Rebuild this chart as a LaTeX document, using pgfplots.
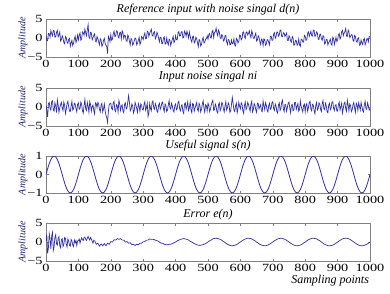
\documentclass[border=0pt]{standalone}
\usepackage{fontspec}
\setmainfont{Liberation Serif}
\newfontfamily\tickfont[FakeStretch=1.3]{Liberation Serif}
\usepackage{pgfplots}
\usepackage{pgfplotstable}
\pgfplotsset{compat=1.18}
\definecolor{sig}{RGB}{48,48,160}
\definecolor{lab}{RGB}{30,30,110}

% reference input with noise d(n), sampled every 2.5 points
\pgfplotstableread[row sep=\\]{y\\
0.8\\ -0.7\\ -0.7\\ 1.2\\ 1.1\\ 0.2\\ 1.9\\ 1.2\\ 0.6\\ 2.0\\ 1.9\\ 0.2\\ 0.3\\ 1.5\\ 2.0\\ 0.3\\ 0.8\\ 1.6\\ -0.8\\ -0.4\\ 0.6\\ 0.0\\ -1.2\\ -1.5\\ 0.4\\ 0.1\\ -1.1\\ -1.4\\ -0.3\\ -0.1\\ -2.2\\ -1.3\\ -0.6\\ -2.0\\ -1.4\\ -0.2\\ 0.5\\ -1.2\\ -0.5\\ 0.8\\
-0.5\\ 0.8\\ 1.3\\ -0.6\\ -0.2\\ 1.6\\ 1.4\\ 0.7\\ 2.3\\ 1.4\\ 0.6\\ 2.2\\ 3.5\\ 0.2\\ -0.1\\ 1.5\\ 1.3\\ -0.5\\ 0.1\\ 0.7\\ 1.1\\ -0.8\\ -1.0\\ 0.4\\ -0.2\\ -1.0\\ -1.8\\ -0.2\\ -0.5\\ -2.2\\ -1.8\\ -0.6\\ -0.1\\ -1.4\\ -1.9\\ -2.2\\ -4.1\\ 0.5\\ 0.0\\ -1.0\\
0.9\\ -0.6\\ -0.3\\ 1.1\\ 1.8\\ 0.4\\ 0.5\\ 1.9\\ 1.8\\ 0.4\\ 0.0\\ 1.4\\ 1.5\\ -0.2\\ 1.9\\ 1.4\\ -0.1\\ 0.7\\ 0.6\\ -0.7\\ -0.9\\ 0.8\\ 0.3\\ -0.9\\ -1.8\\ -0.1\\ -0.4\\ -1.9\\ -1.5\\ -0.7\\ 0.0\\ -0.2\\ -1.8\\ -1.4\\ -0.6\\ 0.2\\ -1.7\\ -1.2\\ 0.4\\ 0.1\\
-0.4\\ 0.7\\ 1.3\\ -0.2\\ -0.1\\ 1.8\\ 1.6\\ 0.4\\ 1.2\\ 1.8\\ 2.3\\ 0.7\\ 0.5\\ 1.5\\ 1.7\\ -0.2\\ 0.3\\ 1.5\\ 0.9\\ 0.0\\ -1.0\\ 0.2\\ 0.2\\ -1.5\\ -1.4\\ 0.0\\ 0.3\\ -1.5\\ -1.6\\ 0.0\\ -1.2\\ -1.8\\ -0.3\\ -0.6\\ -2.0\\ -1.1\\ -0.3\\ 0.4\\ -1.2\\ -0.8\\
0.6\\ -0.4\\ -0.5\\ 1.4\\ 1.7\\ 0.5\\ 0.6\\ 1.6\\ 1.7\\ 0.0\\ 0.1\\ 1.8\\ 1.4\\ 0.5\\ 1.8\\ 1.0\\ 0.0\\ 1.6\\ 0.5\\ -0.5\\ -1.1\\ 0.3\\ 0.5\\ -1.3\\ -1.0\\ 0.2\\ -0.2\\ -1.2\\ -2.3\\ -0.4\\ -0.7\\ -2.1\\ -1.7\\ -0.5\\ 0.2\\ -1.3\\ -1.1\\ -0.3\\ -0.2\\ 0.6\\
-0.3\\ 0.9\\ 1.2\\ 0.1\\ 0.0\\ 1.7\\ 2.0\\ 0.1\\ 1.5\\ 1.6\\ 2.6\\ 1.3\\ 0.6\\ 2.1\\ 1.5\\ 0.1\\ -0.2\\ 0.9\\ 0.7\\ -0.8\\ -0.6\\ 0.6\\ 0.7\\ -1.0\\ -1.7\\ -0.4\\ -0.5\\ -1.8\\ -1.7\\ -0.5\\ -1.5\\ -1.4\\ -0.2\\ -1.9\\ -2.1\\ -0.1\\ -0.4\\ -1.3\\ -0.9\\ 0.8\\
0.7\\ -0.5\\ -0.2\\ 1.5\\ 1.6\\ 0.3\\ -0.1\\ 1.5\\ 1.6\\ 0.8\\ 1.2\\ 1.9\\ 0.7\\ 0.1\\ 1.9\\ 1.2\\ -0.1\\ -0.1\\ 0.7\\ 1.3\\ -0.8\\ -0.5\\ 0.6\\ 0.2\\ -1.0\\ -1.7\\ -0.3\\ -0.5\\ -2.0\\ -0.2\\ -0.4\\ -1.9\\ -1.6\\ -0.4\\ -0.5\\ -1.2\\ -1.8\\ 0.5\\ 0.5\\ -0.6\\
-0.6\\ 1.0\\ 1.4\\ -0.1\\ 0.3\\ 1.6\\ 1.6\\ 0.5\\ 0.8\\ 2.1\\ 2.0\\ 0.3\\ 0.3\\ 1.4\\ 1.3\\ 0.4\\ 0.9\\ 1.3\\ -0.6\\ -0.7\\ 0.6\\ 0.2\\ -0.8\\ -1.1\\ 0.4\\ 0.0\\ -1.9\\ -1.7\\ -0.6\\ -0.7\\ -1.9\\ -1.6\\ -0.3\\ -1.8\\ -2.2\\ -0.3\\ -0.4\\ -1.0\\ -1.1\\ 0.7\\
0.5\\ -0.6\\ -0.4\\ 1.2\\ 1.6\\ 0.4\\ 1.1\\ 1.8\\ 0.6\\ 0.5\\ 2.1\\ 2.0\\ 0.4\\ 0.7\\ 1.6\\ 1.3\\ -0.3\\ -0.4\\ 0.9\\ 1.0\\ -0.2\\ -0.6\\ 0.6\\ 0.5\\ -1.6\\ -1.3\\ -0.4\\ -0.4\\ -1.8\\ -1.2\\ -0.8\\ -0.3\\ -1.6\\ -1.9\\ 0.2\\ -0.1\\ -1.7\\ -0.8\\ 0.2\\ -0.9\\
-0.5\\ 0.8\\ 1.2\\ -0.3\\ 0.2\\ 1.7\\ 2.0\\ 0.6\\ 1.3\\ 1.7\\ 2.5\\ 0.5\\ 0.4\\ 2.1\\ 1.6\\ 0.1\\ 0.4\\ 0.9\\ 0.8\\ -0.6\\ -0.9\\ 0.7\\ 0.4\\ -0.9\\ -1.1\\ -0.1\\ 0.1\\ -1.9\\ -1.8\\ -0.5\\ -1.3\\ -1.7\\ -0.4\\ -0.1\\ -1.8\\ -1.2\\ -0.2\\ -0.2\\ -1.0\\ 0.4\\
0.3\\
}\dref

% input noise, sampled every 2.5 points
\pgfplotstableread[row sep=\\]{y\\
0.4\\ -1.0\\ -2.6\\ 0.9\\ 1.2\\ -0.3\\ -0.8\\ 1.4\\ 1.6\\ -0.7\\ -1.1\\ 1.1\\ 0.3\\ -1.5\\ 1.9\\ 0.5\\ -1.4\\ -0.2\\ 0.6\\ 1.2\\ -0.2\\ -0.9\\ 1.3\\ 0.4\\ -1.7\\ -0.6\\ 0.9\\ 1.5\\ 0.1\\ -1.1\\ -1.2\\ 0.3\\ 1.5\\ -0.8\\ -0.5\\ 1.0\\ 0.8\\ -0.4\\ -1.3\\ 0.7\\
1.1\\ -0.6\\ -0.4\\ 1.3\\ 0.7\\ -1.0\\ -1.6\\ 0.4\\ 2.0\\ -0.5\\ -0.9\\ 1.2\\ 0.2\\ -1.4\\ 1.4\\ 0.6\\ -1.1\\ 0.1\\ 0.5\\ -0.9\\ -1.8\\ 1.1\\ 0.9\\ -0.2\\ 1.2\\ 0.8\\ -0.6\\ -1.3\\ 0.4\\ 1.0\\ -1.3\\ -0.5\\ 0.8\\ -1.0\\ -2.2\\ -2.8\\ -4.0\\ -1.2\\ 0.6\\ 0.9\\
1.0\\ -0.4\\ -0.7\\ 1.1\\ 1.5\\ -0.8\\ -1.2\\ 0.6\\ 0.3\\ -1.3\\ 1.7\\ 0.9\\ -0.9\\ 0.2\\ 0.6\\ -1.1\\ -1.5\\ 0.7\\ 1.1\\ -0.5\\ -0.3\\ 1.4\\ 3.0\\ 1.2\\ -1.0\\ -0.6\\ 0.8\\ 0.3\\ -1.6\\ -0.9\\ 1.2\\ 0.5\\ -0.4\\ -1.4\\ 0.9\\ 0.2\\ -1.1\\ 0.8\\ 0.5\\ -0.7\\
-0.8\\ 0.6\\ 1.4\\ -0.9\\ -0.2\\ 1.0\\ -2.5\\ -1.5\\ 0.9\\ -0.4\\ -1.0\\ 1.2\\ 1.6\\ -0.3\\ -0.6\\ 0.9\\ 0.3\\ -1.1\\ -1.4\\ 0.5\\ 1.0\\ -0.6\\ -0.1\\ 1.1\\ 1.3\\ -0.4\\ -1.2\\ 0.8\\ 0.4\\ -1.2\\ -0.8\\ 0.6\\ 1.7\\ -0.2\\ -0.5\\ 1.0\\ 0.2\\ -0.9\\ -1.3\\ 0.4\\
0.8\\ -0.7\\ -0.4\\ 1.2\\ 1.5\\ -0.5\\ -1.0\\ 0.3\\ 0.6\\ -1.2\\ -1.7\\ 0.8\\ 1.1\\ -0.6\\ 0.2\\ 1.4\\ -0.9\\ -0.2\\ 1.3\\ -0.8\\ -1.5\\ 0.9\\ 0.7\\ -1.1\\ -0.3\\ 0.5\\ 1.2\\ -0.7\\ -1.1\\ 1.0\\ 0.4\\ -1.3\\ -0.6\\ 0.8\\ 1.6\\ -0.3\\ -1.4\\ 0.6\\ 0.3\\ -1.0\\
1.0\\ 0.4\\ -1.2\\ -0.6\\ 0.5\\ 1.3\\ 1.8\\ -0.9\\ -0.7\\ 0.8\\ 0.2\\ -1.2\\ -1.6\\ 0.6\\ 1.1\\ -1.0\\ -0.4\\ 1.2\\ 0.9\\ -0.5\\ -1.3\\ 0.3\\ 1.4\\ -0.8\\ -0.2\\ 1.1\\ 0.6\\ -1.4\\ -1.0\\ 0.7\\ 2.5\\ 0.9\\ -0.8\\ -1.2\\ 0.3\\ 1.0\\ -1.5\\ -0.4\\ 1.2\\ 0.2\\
-0.5\\ 1.1\\ 0.8\\ -1.0\\ -1.7\\ 0.4\\ 1.3\\ -0.7\\ -0.2\\ 1.2\\ 0.7\\ -0.3\\ -1.1\\ 0.8\\ 1.5\\ -1.3\\ -0.6\\ 0.9\\ 0.4\\ -0.8\\ -1.4\\ 1.0\\ 0.9\\ -0.5\\ 0.1\\ 0.6\\ -1.0\\ -1.2\\ 1.6\\ 0.3\\ -0.7\\ 1.1\\ 0.5\\ -0.9\\ -1.3\\ 0.4\\ 1.0\\ -0.6\\ -0.3\\ 1.2\\
1.4\\ -0.4\\ -0.9\\ 0.8\\ 0.3\\ -1.2\\ -1.6\\ 0.6\\ 1.1\\ -0.9\\ -0.4\\ 1.3\\ 1.8\\ -0.5\\ -1.2\\ 0.7\\ 0.6\\ -1.1\\ -0.1\\ 1.0\\ 1.3\\ -0.3\\ -1.5\\ 0.5\\ 0.7\\ -1.0\\ -0.8\\ 1.2\\ 1.2\\ -0.6\\ 0.2\\ 0.9\\ -1.1\\ -0.7\\ 1.6\\ 0.2\\ -0.6\\ -1.3\\ 0.4\\ 0.8\\
-1.3\\ 0.5\\ 0.9\\ -1.1\\ -0.2\\ 1.2\\ 1.5\\ -0.5\\ -1.0\\ 0.7\\ 0.5\\ -1.0\\ -1.8\\ 0.4\\ 1.2\\ -0.8\\ -0.4\\ 1.1\\ 0.8\\ -0.6\\ -1.2\\ 0.9\\ 1.7\\ -0.4\\ -0.7\\ 1.0\\ 0.3\\ -1.2\\ -1.5\\ 0.5\\ 1.0\\ -0.7\\ -0.3\\ 1.3\\ 1.4\\ -0.3\\ -0.9\\ 0.4\\ 0.6\\ -1.0\\
-1.1\\ 0.7\\ 1.3\\ -0.8\\ 0.1\\ 1.0\\ -1.6\\ -0.4\\ 0.9\\ 1.3\\ -0.5\\ -1.1\\ 1.8\\ 0.5\\ -1.0\\ 0.8\\ 0.4\\ -1.2\\ -0.7\\ 0.6\\ 1.2\\ -0.3\\ -1.4\\ 1.0\\ 0.6\\ -0.9\\ 1.1\\ 0.2\\ -0.8\\ 1.2\\ 0.2\\ -1.0\\ -1.3\\ 0.7\\ 1.5\\ -0.5\\ -0.6\\ 1.1\\ 0.3\\ -0.8\\
-0.4\\
}\dnoise

% useful signal, sampled every 5 points
\pgfplotstableread[row sep=\\]{y\\
0\\ 0.31\\ 0.59\\ 0.81\\ 0.95\\ 1\\ 0.95\\ 0.81\\ 0.59\\ 0.31\\ 0\\ -0.31\\ -0.59\\ -0.81\\ -0.95\\ -1\\ -0.95\\ -0.81\\ -0.59\\ -0.31\\
0\\ 0.31\\ 0.59\\ 0.81\\ 0.95\\ 1\\ 0.95\\ 0.81\\ 0.59\\ 0.31\\ 0\\ -0.31\\ -0.59\\ -0.81\\ -0.95\\ -1\\ -0.95\\ -0.81\\ -0.59\\ -0.31\\
0\\ 0.31\\ 0.59\\ 0.81\\ 0.95\\ 1\\ 0.95\\ 0.81\\ 0.59\\ 0.31\\ 0\\ -0.31\\ -0.59\\ -0.81\\ -0.95\\ -1\\ -0.95\\ -0.81\\ -0.59\\ -0.31\\
0\\ 0.31\\ 0.59\\ 0.81\\ 0.95\\ 1\\ 0.95\\ 0.81\\ 0.59\\ 0.31\\ 0\\ -0.31\\ -0.59\\ -0.81\\ -0.95\\ -1\\ -0.95\\ -0.81\\ -0.59\\ -0.31\\
0\\ 0.31\\ 0.59\\ 0.81\\ 0.95\\ 1\\ 0.95\\ 0.81\\ 0.59\\ 0.31\\ 0\\ -0.31\\ -0.59\\ -0.81\\ -0.95\\ -1\\ -0.95\\ -0.81\\ -0.59\\ -0.31\\
0\\ 0.31\\ 0.59\\ 0.81\\ 0.95\\ 1\\ 0.95\\ 0.81\\ 0.59\\ 0.31\\ 0\\ -0.31\\ -0.59\\ -0.81\\ -0.95\\ -1\\ -0.95\\ -0.81\\ -0.59\\ -0.31\\
0\\ 0.31\\ 0.59\\ 0.81\\ 0.95\\ 1\\ 0.95\\ 0.81\\ 0.59\\ 0.31\\ 0\\ -0.31\\ -0.59\\ -0.81\\ -0.95\\ -1\\ -0.95\\ -0.81\\ -0.59\\ -0.31\\
0\\ 0.31\\ 0.59\\ 0.81\\ 0.95\\ 1\\ 0.95\\ 0.81\\ 0.59\\ 0.31\\ 0\\ -0.31\\ -0.59\\ -0.81\\ -0.95\\ -1\\ -0.95\\ -0.81\\ -0.59\\ -0.31\\
0\\ 0.31\\ 0.59\\ 0.81\\ 0.95\\ 1\\ 0.95\\ 0.81\\ 0.59\\ 0.31\\ 0\\ -0.31\\ -0.59\\ -0.81\\ -0.95\\ -1\\ -0.95\\ -0.81\\ -0.59\\ -0.31\\
0\\ 0.31\\ 0.59\\ 0.81\\ 0.95\\ 1\\ 0.95\\ 0.81\\ 0.59\\ 0.31\\ 0\\ -0.31\\ -0.59\\ -0.81\\ -0.95\\ -1\\ -0.95\\ -0.81\\ -0.59\\ -0.31\\
0\\
}\duseful

% error e(n): start (0-150, every 2.5 points)
\pgfplotstableread[row sep=\\]{x y\\
0 0.3\\ 2.5 2.0\\ 5 -3.0\\ 7.5 -1.5\\ 10 2.2\\ 12.5 0.8\\ 15 -1.8\\ 17.5 1.6\\ 20 2.5\\ 22.5 -2.2\\
25 -1.2\\ 27.5 1.2\\ 30 1.9\\ 32.5 -0.5\\ 35 -0.8\\ 37.5 1.0\\ 40 1.4\\ 42.5 -1.0\\ 45 -1.5\\ 47.5 0.6\\
50 0.9\\ 52.5 -1.2\\ 55 -0.7\\ 57.5 1.2\\ 60 1.0\\ 62.5 -0.6\\ 65 -1.3\\ 67.5 0.8\\ 70 0.2\\ 72.5 -0.9\\
75 -1.1\\ 77.5 0.7\\ 80 0.3\\ 82.5 -0.8\\ 85 -1.2\\ 87.5 0.5\\ 90 -0.2\\ 92.5 0.4\\ 95 -0.9\\ 97.5 0.3\\
100 0.4\\ 102.5 0.8\\ 105 -0.3\\ 107.5 0.5\\ 110 1.1\\ 112.5 0.6\\ 115 0.4\\ 117.5 1.2\\ 120 1.3\\ 122.5 0.7\\
125 0.4\\ 127.5 1.0\\ 130 1.5\\ 132.5 0.9\\ 135 0.5\\ 137.5 1.2\\ 140 0.8\\ 142.5 0.2\\ 145 -0.3\\ 147.5 0.5\\
150 0.4\\
}\derrA

% error e(n): rest (150-1000, every 5 points)
\pgfplotstableread[row sep=\\]{y\\
0.4\\ -0.6\\ -0.3\\ -1.1\\ -0.5\\ -1.0\\ -0.4\\ -1.0\\ -0.3\\ -0.6\\
0.1\\ 0.0\\ 0.6\\ 0.5\\ 0.9\\ 0.7\\ 0.9\\ 0.5\\ 0.5\\ 0.0\\ 0.1\\ -0.3\\ -0.2\\ -0.7\\ -0.6\\ -0.9\\ -0.6\\ -0.7\\ -0.3\\ -0.3\\
0.1\\ 0.1\\ 0.5\\ 0.5\\ 0.8\\ 0.7\\ 0.7\\ 0.6\\ 0.4\\ 0.3\\ 0.0\\ -0.3\\ -0.3\\ -0.6\\ -0.7\\ -0.7\\ -0.6\\ -0.6\\ -0.4\\ -0.2\\
0.0\\ 0.3\\ 0.5\\ 0.7\\ 0.8\\ 0.9\\ 0.8\\ 0.7\\ 0.5\\ 0.2\\ 0.0\\ -0.3\\ -0.5\\ -0.7\\ -0.8\\ -0.9\\ -0.8\\ -0.7\\ -0.5\\ -0.3\\
0.02\\ 0.33\\ 0.55\\ 0.82\\ 0.93\\ 1.02\\ 0.90\\ 0.79\\ 0.60\\ 0.28\\ 0.03\\ -0.30\\ -0.58\\ -0.80\\ -0.95\\ -0.98\\ -0.92\\ -0.78\\ -0.60\\ -0.27\\
0.03\\ 0.29\\ 0.60\\ 0.78\\ 0.96\\ 0.98\\ 0.93\\ 0.83\\ 0.56\\ 0.32\\ -0.02\\ -0.29\\ -0.61\\ -0.79\\ -0.92\\ -1.01\\ -0.94\\ -0.80\\ -0.57\\ -0.31\\
0.01\\ 0.32\\ 0.57\\ 0.81\\ 0.92\\ 1.00\\ 0.95\\ 0.78\\ 0.59\\ 0.30\\ 0.02\\ -0.32\\ -0.57\\ -0.82\\ -0.94\\ -0.99\\ -0.93\\ -0.79\\ -0.59\\ -0.29\\
-0.01\\ 0.31\\ 0.59\\ 0.80\\ 0.95\\ 0.99\\ 0.92\\ 0.81\\ 0.57\\ 0.31\\ 0.01\\ -0.30\\ -0.60\\ -0.79\\ -0.96\\ -1.00\\ -0.94\\ -0.82\\ -0.58\\ -0.30\\
0.02\\ 0.30\\ 0.58\\ 0.82\\ 0.94\\ 1.01\\ 0.94\\ 0.80\\ 0.60\\ 0.29\\ 0.00\\ -0.31\\ -0.58\\ -0.80\\ -0.95\\ -0.99\\ -0.95\\ -0.79\\ -0.60\\ -0.32\\
0.0\\
}\derrB

\pgfplotsset{
  every axis title/.style={at={(axis description cs:0.5,1)}, anchor=center,
      font=\itshape\fontsize{12}{12}\selectfont},
  sub/.style={
    anchor=north west,
    scale only axis,
    width=324pt,
    height=37pt,
    xmin=0, xmax=1000,
    xtick={0,100,...,1000},
    xticklabels={0,100,200,300,400,500,600,700,800,900,1000},
    tick label style={font=\tickfont\fontsize{11}{11}\selectfont},
    major tick length=2.5pt,
    tick align=inside,
    axis line style={draw=black!50},
    every tick/.style={draw=black!50},
    ylabel={Amplitude},
    ylabel style={at={(axis description cs:-0.071,0.5)}, anchor=center, rotate=0,
      font=\itshape\fontsize{10}{10}\selectfont, text=lab},
  },
  noisy/.style={ymin=-5, ymax=5, ytick={-5,0,5}, yticklabels={−5,0,5}},
}

\begin{document}
\begin{tikzpicture}
\path[use as bounding box] (0pt,0pt) rectangle (390pt,-293pt);

\begin{axis}[sub, noisy, at={(46pt,-19pt)}, height=38pt,
  title={Reference input with noise singal d(n)}, title style={yshift=9pt}]
\addplot[sig, line width=0.7pt, no marks] table[x expr=\coordindex*2.5, y=y] {\dref};
\end{axis}

\begin{axis}[sub, noisy, at={(46pt,-88pt)}, height=38pt,
  title={Input noise singal ni}, title style={yshift=11pt}]
\addplot[sig, line width=0.7pt, no marks] table[x expr=\coordindex*2.5, y=y] {\dnoise};
\end{axis}

\begin{axis}[sub, at={(46pt,-156pt)}, height=37pt,
  ymin=-1, ymax=1, ytick={-1,0,1}, yticklabels={−1,0,1},
  title={Useful signal s(n)}, title style={yshift=10pt}]
\addplot[sig, line width=0.8pt, no marks, smooth] table[x expr=\coordindex*5, y=y] {\duseful};
\end{axis}

\begin{axis}[sub, noisy, at={(46pt,-223pt)}, height=38pt,
  title={Error e(n)}, title style={yshift=8pt},
  xlabel={Sampling points},
  xlabel style={at={(axis description cs:0.877,0)}, anchor=center, yshift=-20pt,
    font=\itshape\fontsize{12}{12}\selectfont}]
\addplot[sig, line width=0.7pt, no marks] table[x=x, y=y] {\derrA};
\addplot[sig, line width=0.7pt, no marks] table[x expr=150+\coordindex*5, y=y] {\derrB};
\end{axis}
\end{tikzpicture}
\end{document}
